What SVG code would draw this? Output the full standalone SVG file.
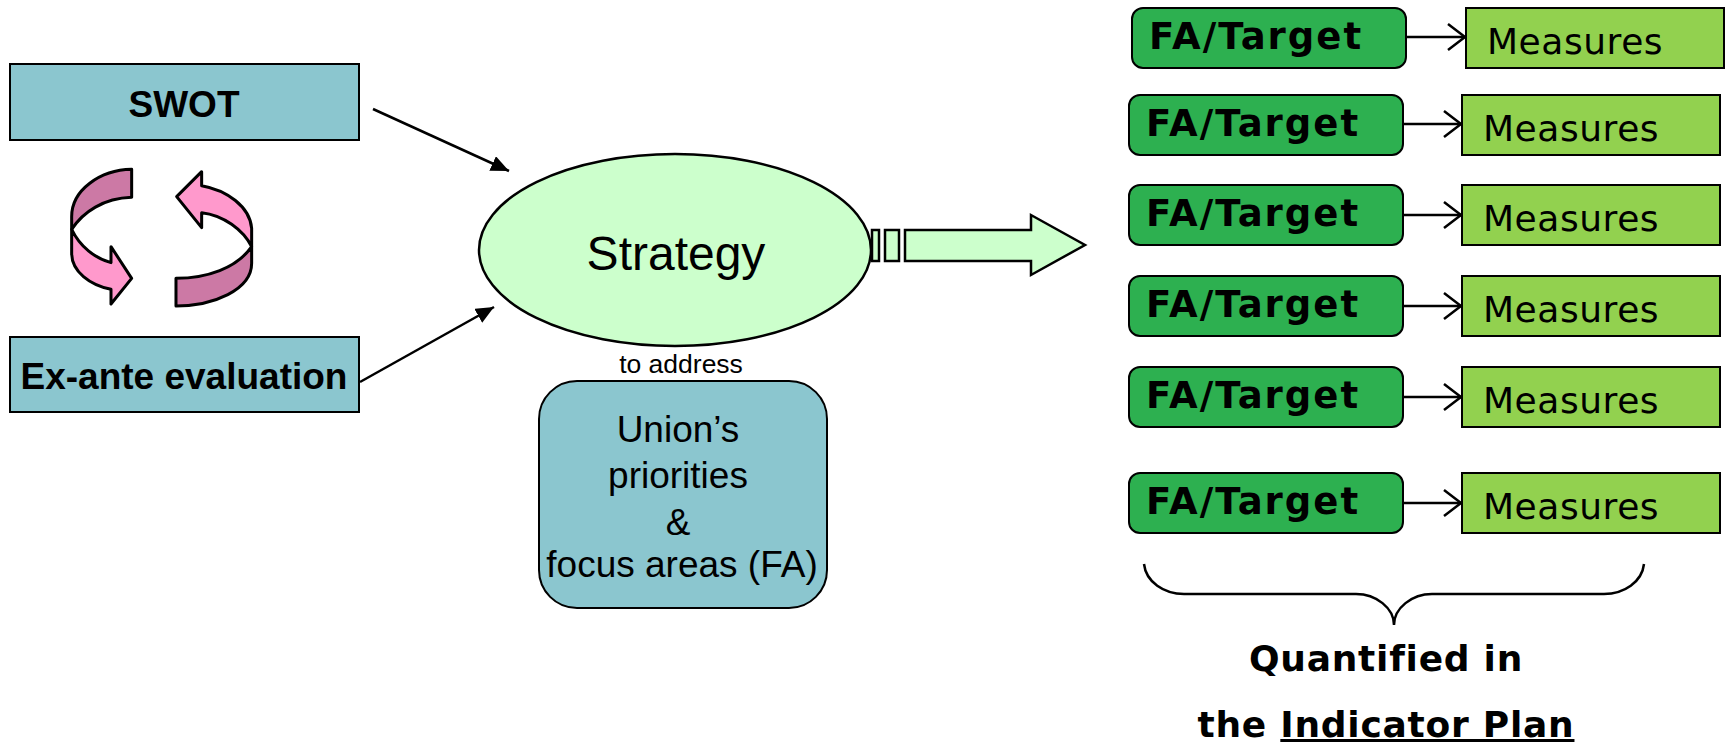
<svg xmlns="http://www.w3.org/2000/svg" width="1725" height="742" viewBox="0 0 1725 742">
<style>
.a{font-family:"Liberation Sans",Arial,sans-serif;fill:#000;text-anchor:middle}
.b{font-weight:bold}
.v{font-family:"DejaVu Sans",Verdana,sans-serif;fill:#000;font-size:36px;letter-spacing:.55px}
.ft{font-family:"DejaVu Sans",Verdana,sans-serif;fill:#000;font-size:37px;font-weight:bold;letter-spacing:2px}
.q{font-family:"DejaVu Sans",Verdana,sans-serif;fill:#000;font-size:36px;font-weight:bold;letter-spacing:.75px;text-anchor:middle}
.teal{fill:#8BC6CF;stroke:#000;stroke-width:2}
.fa{fill:#2DB050;stroke:#000;stroke-width:2}
.me{fill:#92D14F;stroke:#000;stroke-width:2}
.mint{fill:#CCFFCC;stroke:#000;stroke-width:2.5}
.c{fill:none;stroke:#000;stroke-width:2.5}
.dk{fill:#CC79A5;stroke:#000;stroke-width:9;stroke-linejoin:round}
.lt{fill:#FF99CC;stroke:#000;stroke-width:9;stroke-linejoin:round}
</style>
<defs>
<marker id="solid" markerUnits="userSpaceOnUse" markerWidth="20" markerHeight="16" refX="18" refY="8" orient="auto"><path d="M0 0L18 8L0 16Z" fill="#000"/></marker>
<marker id="open" markerUnits="userSpaceOnUse" markerWidth="22" markerHeight="32" refX="19" refY="14" orient="auto"><path d="M2 1L19 14L2 27" fill="none" stroke="#000" stroke-width="2.5"/></marker>
</defs>
<g id="swot"><rect class="teal" x="10" y="64" width="349" height="76"/><text class="a b" x="184" y="117" font-size="37">SWOT</text></g>
<g id="exante"><rect class="teal" x="10" y="337" width="349" height="75"/><text class="a b" x="184" y="389" font-size="37">Ex-ante evaluation</text></g>
<g id="cycle" transform="translate(40 140) scale(.3333)">
<path class="dk" d="M275 88V172C190 175 130 215 95 268V230C95 150 180 90 275 88Z"/>
<path class="lt" d="M95 268C120 320 165 355 213 368V320L275 415L213 492V448C150 435 95 395 95 340Z"/>
<path class="lt" d="M635 320V265C630 200 560 150 485 137V95L410 170L485 263V218C550 225 610 270 635 320Z"/>
<path class="dk" d="M635 320C590 385 500 415 408 415V498C520 498 635 450 635 370Z"/>
</g>
<g id="strategy"><ellipse class="mint" cx="675" cy="250" rx="196" ry="96"/><text class="a" x="676" y="270" font-size="48">Strategy</text></g>
<g id="bigarrow">
<rect class="mint" x="872" y="230" width="7" height="31"/>
<rect class="mint" x="885" y="230" width="14" height="31"/>
<path class="mint" d="M905 230H1031V215L1085 245L1031 275V261H905Z"/>
</g>
<g id="toaddress"><text class="a" x="681" y="373" font-size="26.5">to address</text></g>
<g id="union"><rect class="teal" x="539" y="381" width="288" height="227" rx="38"/>
<text class="a" font-size="37"><tspan x="678" y="442">Union’s</tspan><tspan x="678" y="488">priorities</tspan><tspan x="678" y="535">&amp;</tspan><tspan x="682" y="577">focus areas (FA)</tspan></text></g>
<g id="connectors">
<line class="c" x1="373" y1="109" x2="509" y2="171" marker-end="url(#solid)"/>
<line class="c" x1="360" y1="382" x2="494" y2="307" marker-end="url(#solid)"/>
<line class="c" x1="1406" y1="37" x2="1465" y2="37" marker-end="url(#open)"/>
<line class="c" x1="1402" y1="124" x2="1461" y2="124" marker-end="url(#open)"/>
<line class="c" x1="1402" y1="215" x2="1461" y2="215" marker-end="url(#open)"/>
<line class="c" x1="1402" y1="306" x2="1461" y2="306" marker-end="url(#open)"/>
<line class="c" x1="1402" y1="397" x2="1461" y2="397" marker-end="url(#open)"/>
<line class="c" x1="1402" y1="503" x2="1461" y2="503" marker-end="url(#open)"/>
</g>
<g id="fa1"><rect class="fa" x="1132" y="8" width="274" height="60" rx="11"/><text class="ft" x="1149" y="49">FA/Target</text></g>
<g id="m1"><rect class="me" x="1466" y="8" width="258" height="60"/><text class="v" x="1487" y="54">Measures</text></g>
<g id="fa2"><rect class="fa" x="1129" y="95" width="274" height="60" rx="11"/><text class="ft" x="1146" y="136">FA/Target</text></g>
<g id="m2"><rect class="me" x="1462" y="95" width="258" height="60"/><text class="v" x="1483" y="141">Measures</text></g>
<g id="fa3"><rect class="fa" x="1129" y="185" width="274" height="60" rx="11"/><text class="ft" x="1146" y="226">FA/Target</text></g>
<g id="m3"><rect class="me" x="1462" y="185" width="258" height="60"/><text class="v" x="1483" y="231">Measures</text></g>
<g id="fa4"><rect class="fa" x="1129" y="276" width="274" height="60" rx="11"/><text class="ft" x="1146" y="317">FA/Target</text></g>
<g id="m4"><rect class="me" x="1462" y="276" width="258" height="60"/><text class="v" x="1483" y="322">Measures</text></g>
<g id="fa5"><rect class="fa" x="1129" y="367" width="274" height="60" rx="11"/><text class="ft" x="1146" y="408">FA/Target</text></g>
<g id="m5"><rect class="me" x="1462" y="367" width="258" height="60"/><text class="v" x="1483" y="413">Measures</text></g>
<g id="fa6"><rect class="fa" x="1129" y="473" width="274" height="60" rx="11"/><text class="ft" x="1146" y="514">FA/Target</text></g>
<g id="m6"><rect class="me" x="1462" y="473" width="258" height="60"/><text class="v" x="1483" y="519">Measures</text></g>
<g id="brace"><path class="c" d="M1144 564C1146 582 1164 594 1184 594H1356C1376 594 1394 608 1394 625C1394 608 1412 594 1432 594H1604C1624 594 1642 582 1644 564"/></g>
<g id="quantified"><text class="q" x="1386" y="671">Quantified in</text><text class="q" x="1386" y="737">the <tspan text-decoration="underline">Indicator Plan</tspan></text></g>
</svg>
